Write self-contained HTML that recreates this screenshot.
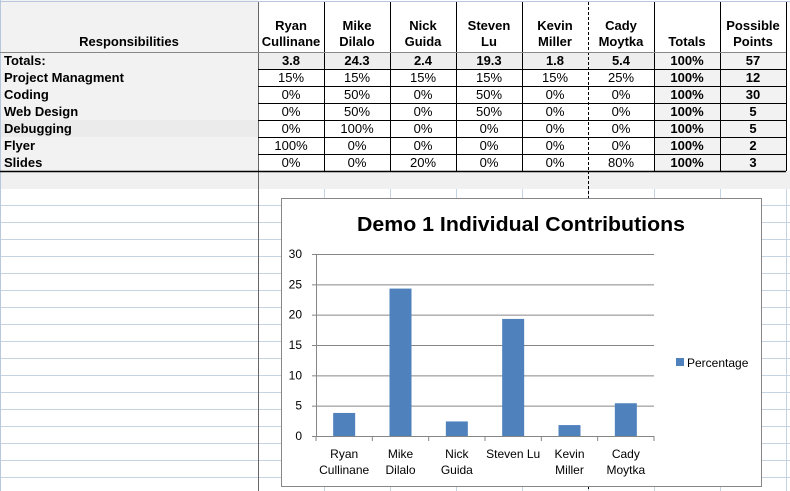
<!DOCTYPE html>
<html><head><meta charset="utf-8">
<style>
body{margin:0;width:790px;height:491px;overflow:hidden;background:#fff;font-family:"Liberation Sans",Arial,sans-serif;position:relative}
.c{position:absolute;box-sizing:border-box;font-size:13px;text-align:center;line-height:17px;white-space:nowrap}
.h{line-height:16px}
.b{font-weight:bold}
</style></head><body>
<svg id="bg" width="790" height="491" style="position:absolute;left:0;top:0"></svg>
<div id="tbl"></div>
<svg id="chart" width="790" height="491" style="position:absolute;left:0;top:0"></svg>
<script>
const colX=[0,258,324,390,456,522,588,654,720,786];
const headers=["Responsibilities","Ryan<br>Cullinane","Mike<br>Dilalo","Nick<br>Guida","Steven<br>Lu","Kevin<br>Miller","Cady<br>Moytka","Totals","Possible<br>Points"];
const rows=[
["Totals:","3.8","24.3","2.4","19.3","1.8","5.4","100%","57"],
["Project Managment","15%","15%","15%","15%","15%","25%","100%","12"],
["Coding","0%","50%","0%","50%","0%","0%","100%","30"],
["Web Design","0%","50%","0%","50%","0%","0%","100%","5"],
["Debugging","0%","100%","0%","0%","0%","0%","100%","5"],
["Flyer","100%","0%","0%","0%","0%","0%","100%","2"],
["Slides","0%","0%","20%","0%","0%","80%","100%","3"]];
const NS="http://www.w3.org/2000/svg";
function s(p,tag,a){const e=document.createElementNS(NS,tag);for(const k in a)e.setAttribute(k,a[k]);p.appendChild(e);return e;}
const bg=document.getElementById('bg');
s(bg,'rect',{x:0,y:0,width:790,height:171,fill:'#fff'});
s(bg,'rect',{x:0,y:0,width:258,height:171,fill:'#f2f2f2'});
s(bg,'rect',{x:0,y:120,width:258,height:17,fill:'#ebebeb'});
s(bg,'rect',{x:258,y:52,width:396,height:17,fill:'#eeeeee'});
s(bg,'rect',{x:654,y:52,width:132,height:119,fill:'#f2f2f2'});
s(bg,'rect',{x:0,y:171,width:790,height:18,fill:'#f0f0f0'});
for(let y=205;y<491;y+=17)s(bg,'line',{x1:0,x2:790,y1:y+.5,y2:y+.5,stroke:'#c6d3e3'});
for(const x of colX.slice(2))s(bg,'line',{x1:x+.5,x2:x+.5,y1:189,y2:491,stroke:'#c6d3e3'});
s(bg,'line',{x1:0.5,x2:0.5,y1:0,y2:491,stroke:'#b8c8dc'});
s(bg,'line',{x1:0,x2:790,y1:1.5,y2:1.5,stroke:'#b8c8dc'});
for(const x of colX.slice(1))s(bg,'line',{x1:x+.5,x2:x+.5,y1:2,y2:x==258?491:171,stroke:x==258?'#666':'#000','stroke-dasharray':x==588?'3,2':'none'});
s(bg,'line',{x1:588.5,x2:588.5,y1:171,y2:491,stroke:'#000','stroke-dasharray':'3,2'});
for(let i=0;i<=7;i++){const y=52+i*17;s(bg,'line',{x1:i==0||i==7?0:258,x2:786,y1:y+.5,y2:y+.5,stroke:i==0?'#888':'#000','stroke-width':i==7?1.5:1});}
const tbl=document.getElementById('tbl');
function cell(x,y,w,h,html,cls,name,align){const d=document.createElement('div');d.className='c '+cls;d.style.cssText=`left:${x}px;top:${y}px;width:${w}px;height:${h}px;`+(align?`text-align:${align};padding-left:4px;`:'');d.innerHTML=html;


tbl.appendChild(d);}
headers.forEach((h,i)=>{const lines=h.split('<br>').length;cell(colX[i],52-16*lines-2,colX[i+1]-colX[i],16*lines,h,'b h','header-'+i);});
rows.forEach((r,ri)=>r.forEach((v,ci)=>{const bold=ci==0||ci>=7||ri==0;cell(colX[ci],52+ri*17,colX[ci+1]-colX[ci],17,v,bold?'b':'','cell-r'+ri+'-c'+ci,ci==0?'left':null);}));
const categories=[["Ryan","Cullinane"],["Mike","Dilalo"],["Nick","Guida"],["Steven Lu"],["Kevin","Miller"],["Cady","Moytka"]];
const values=[3.8,24.3,2.4,19.3,1.8,5.4];
const ticks=[0,5,10,15,20,25,30];
const ch=document.getElementById('chart');
const px0=316,px1=654,py0=436,py1=254,ymax=30;
const yS=v=>py0-(v/ymax)*(py0-py1);
const bw=(px1-px0)/categories.length;
const xS=i=>px0+bw*(i+.5);
let e=s(ch,'rect',{x:281.5,y:198.5,width:480,height:288,fill:'#fff',stroke:'#868686'});

e=s(ch,'text',{x:357,y:231,'font-size':20,'font-weight':'bold',textLength:328,lengthAdjust:'spacingAndGlyphs','font-family':'"Liberation Sans",sans-serif'});e.textContent='Demo 1 Individual  Contributions';

ticks.forEach(t=>{const y=yS(t);s(ch,'line',{x1:px0,x2:px1,y1:y+.5,y2:y+.5,stroke:'#868686'});s(ch,'line',{x1:px0-4,x2:px0,y1:y+.5,y2:y+.5,stroke:'#868686'});
const tx=s(ch,'text',{x:302,y:y+4,'text-anchor':'end','font-size':12,'font-family':'"Liberation Sans",sans-serif'});tx.textContent=t;
});
s(ch,'line',{x1:px0+.5,x2:px0+.5,y1:py1,y2:py0,stroke:'#868686'});
for(let i=0;i<=categories.length;i++){const x=px0+bw*i;s(ch,'line',{x1:x,x2:x,y1:py0,y2:py0+5,stroke:'#868686'});}
values.forEach((v,i)=>{const r=s(ch,'rect',{x:xS(i)-11,y:yS(v),width:22,height:py0-yS(v),fill:'#4f81bd'});
});
categories.forEach((c,i)=>c.forEach((l,j)=>{const t=s(ch,'text',{x:xS(i),y:458+j*16,'text-anchor':'middle','font-size':12,'font-family':'"Liberation Sans",sans-serif'});t.textContent=l;
}));
e=s(ch,'rect',{x:676,y:358,width:8,height:8,fill:'#4f81bd'});

e=s(ch,'text',{x:687,y:367,'font-size':12,'font-family':'"Liberation Sans",sans-serif'});e.textContent='Percentage';

</script>
</body></html>
